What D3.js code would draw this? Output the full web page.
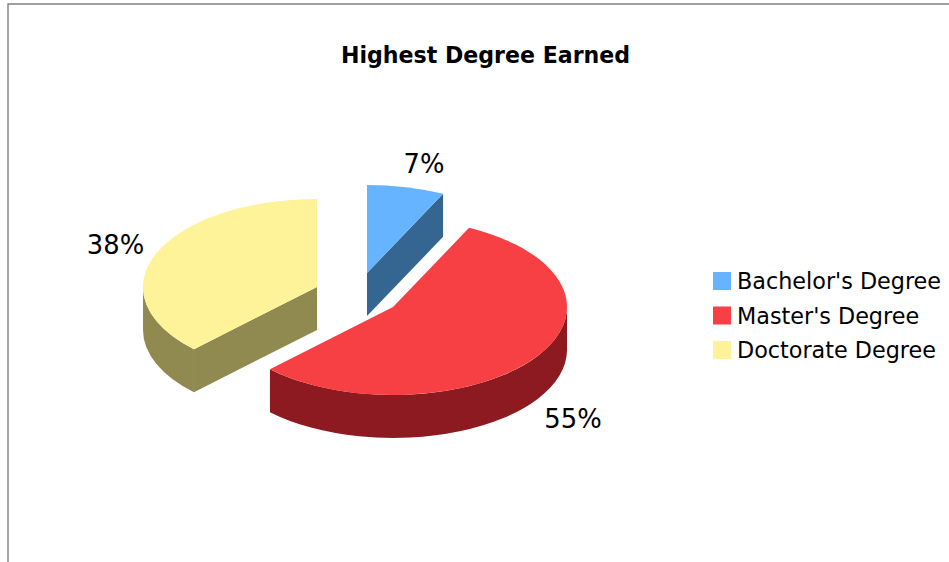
<!DOCTYPE html>
<html>
<head>
<meta charset="utf-8">
<script src="https://cdn.jsdelivr.net/npm/d3@7"></script>
<style>
html,body{margin:0;padding:0;background:#fff;overflow:hidden}
svg{display:block}
text{font-family:"DejaVu Sans",sans-serif;fill:#000}
</style>
</head>
<body>
<svg id="chart" width="949" height="562"></svg>
<script>
const chartTitle = "Highest Degree Earned";
const categories = ["Bachelor's Degree", "Master's Degree", "Doctorate Degree"];
const values = [7.2, 55.3, 37.5];
const valueLabels = ["7%", "55%", "38%"];
const topColors = ["#66b3ff", "#f74043", "#fff399"];
const sideColors = ["#356691", "#8c1a20", "#918a50"];

const W = 949, H = 562;
const svg = d3.select("#chart");

// slice centres (each wedge is exploded), ellipse radii and extrusion depth
const centres = [[367, 273], [393, 307], [317, 287]];
const rx = 174, ry = 88, depth = 43;
const labelPos = [[424, 172.5], [573, 427.5], [115.5, 254]];

svg.append("path")
  .attr("d", d3.line()([[W, 4], [8, 4], [8, H]]))
  .attr("fill", "none").attr("stroke", "#808080").attr("stroke-width", 1.4);

svg.append("text").attr("x", 485.5).attr("y", 63)
  .attr("text-anchor", "middle").attr("font-weight", "bold").attr("font-size", 22.1)
  .text(chartTitle);

const arcs = d3.pie().sort(null)(values);
const pt = (c, a, dy = 0) => [c[0] + rx * Math.sin(a), c[1] - ry * Math.cos(a) + dy];

function topPath(c, a0, a1) {
  const p0 = pt(c, a0), p1 = pt(c, a1);
  const large = a1 - a0 > Math.PI ? 1 : 0;
  return `M${c[0]},${c[1]}L${p0}A${rx},${ry} 0 ${large} 1 ${p1}Z`;
}
function wallPath(c, a0, a1) {
  const p0 = pt(c, a0), p1 = pt(c, a1), q1 = pt(c, a1, depth), q0 = pt(c, a0, depth);
  const large = a1 - a0 > Math.PI ? 1 : 0;
  return `M${p0}A${rx},${ry} 0 ${large} 1 ${p1}L${q1}A${rx},${ry} 0 ${large} 0 ${q0}Z`;
}
function cutPath(c, a) {
  const p = pt(c, a);
  return d3.line()([c, p, [p[0], p[1] + depth], [c[0], c[1] + depth]]) + "Z";
}

const g = svg.append("g");
[2, 0, 1].forEach(i => {
  const d = arcs[i], c = centres[i];
  const lo = Math.max(d.startAngle, Math.PI / 2), hi = Math.min(d.endAngle, 3 * Math.PI / 2);
  if (hi > lo) g.append("path").attr("d", wallPath(c, lo, hi)).attr("fill", sideColors[i]);
  // the wedge's radial cut shows when it faces the viewer
  if (i === 0) g.append("path").attr("d", cutPath(c, d.endAngle)).attr("fill", sideColors[i]);
  if (i === 2) g.append("path").attr("d", cutPath(c, d.startAngle)).attr("fill", sideColors[i]);
  g.append("path").attr("d", topPath(c, d.startAngle, d.endAngle)).attr("fill", topColors[i]);
});

svg.append("g").selectAll("text").data(valueLabels).join("text")
  .attr("x", (d, i) => labelPos[i][0]).attr("y", (d, i) => labelPos[i][1])
  .attr("text-anchor", "middle").attr("font-size", 25.8)
  .text(d => d);

const legendY = d3.scalePoint().domain(categories).range([281, 350]);
const legend = svg.append("g").selectAll("g").data(categories).join("g")
  .attr("transform", d => `translate(713,${legendY(d)})`);
legend.append("rect").attr("x", 0).attr("y", -9).attr("width", 18).attr("height", 18)
  .attr("fill", (d, i) => topColors[i]);
legend.append("text").attr("x", 24).attr("y", 8).attr("font-size", 22.3).text(d => d);
</script>
</body>
</html>
